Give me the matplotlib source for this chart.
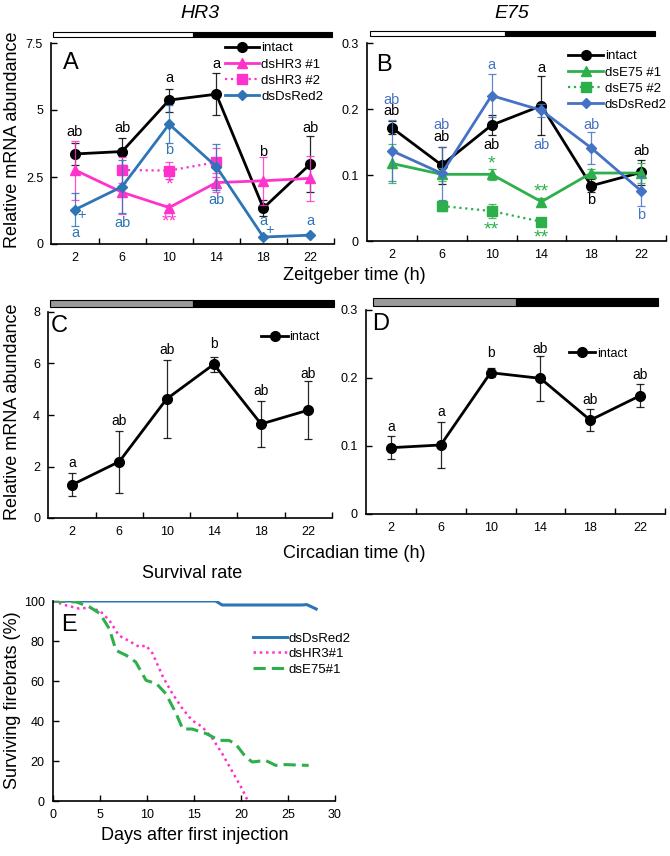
import matplotlib
matplotlib.use('Agg')
import matplotlib.pyplot as plt
from matplotlib.patches import Rectangle

plt.rcParams['font.family'] = ['Liberation Sans', 'DejaVu Sans']

W, H = 670, 856

BLACK = '#000000'
MAGENTA = '#FF33CC'
BLUE = '#2E75B6'
BLUE_B = '#4472C4'
GREEN = '#2DB04B'

zt = [2, 6, 10, 14, 18, 22]
zt_short = [6, 10, 14]

# --- A: HR3 (LD) ---
a_intact = [3.36, 3.45, 5.37, 5.59, 1.34, 2.99]
a_intact_err = [0.40, 0.50, 0.43, 0.78, 0.30, 1.04]
a_dshr3_1 = [2.76, 1.93, 1.36, 2.29, 2.36, 2.45]
a_dshr3_1_err = [1.10, 0.80, 0.10, 0.35, 0.90, 0.85]
a_dshr3_2 = [2.76, 2.74, 3.05]
a_dshr3_2_err = [0.50, 0.33, 0.55]
a_dsred = [1.28, 2.14, 4.47, 2.89, 0.26, 0.33]
a_dsred_err = [0.62, 1.00, 0.70, 0.86, 0.05, 0.05]

# --- B: E75 (LD) ---
b_intact = [0.1715, 0.115, 0.1755, 0.205, 0.0837, 0.104]
b_intact_err = [0.010, 0.028, 0.015, 0.045, 0.010, 0.019]
b_dse75_1 = [0.1175, 0.101, 0.101, 0.0595, 0.103, 0.103]
b_dse75_1_err = [0.030, 0.010, 0.008, 0.006, 0.006, 0.015]
b_dse75_2 = [0.053, 0.0454, 0.0292]
b_dse75_2_err = [0.008, 0.010, 0.002]
b_dsred = [0.1367, 0.1024, 0.2204, 0.198, 0.141, 0.076]
b_dsred_err = [0.046, 0.040, 0.032, 0.010, 0.024, 0.023]

# --- C / D: DD ---
c_intact = [1.29, 2.19, 4.62, 5.97, 3.65, 4.19]
c_intact_err = [0.44, 1.20, 1.53, 0.29, 0.88, 1.12]
d_intact = [0.0975, 0.1015, 0.2078, 0.1995, 0.138, 0.174]
d_intact_err = [0.017, 0.034, 0.007, 0.033, 0.016, 0.017]

# letters (x, y, text, color)
a_letters = [(2, 4.19, 'ab', BLACK), (6, 4.34, 'ab', BLACK), (10, 6.21, 'a', BLACK),
             (14, 6.73, 'a', BLACK), (18, 3.42, 'b', BLACK), (22, 4.34, 'ab', BLACK),
             (2, 0.41, 'a', BLUE), (2.55, 1.09, '+', BLUE), (6, 0.78, 'ab', BLUE),
             (10, 3.50, 'b', BLUE), (14, 1.65, 'ab', BLUE), (18, 0.84, 'a', BLUE),
             (18.5, 0.53, '+', BLUE), (22, 0.87, 'a', BLUE)]
a_stars = [(10, 2.20, '*', MAGENTA), (10, 0.82, '**', MAGENTA)]
b_letters = [(2, 0.2133, 'ab', BLUE_B), (2, 0.1967, 'ab', BLACK),
             (6, 0.1755, 'ab', BLUE_B), (6, 0.158, 'ab', BLACK),
             (10, 0.2663, 'a', BLUE_B), (10, 0.1452, 'ab', BLACK),
             (14, 0.2622, 'a', BLACK), (14, 0.146, 'ab', BLUE_B),
             (18, 0.1755, 'ab', BLUE_B), (18, 0.062, 'b', BLACK),
             (22, 0.136, 'ab', BLACK), (22, 0.039, 'b', BLUE_B)]
b_stars = [(10, 0.116, '*', GREEN), (14, 0.074, '**', GREEN),
           (10, 0.017, '**', GREEN), (14, 0.005, '**', GREEN)]
c_letters = ['a', 'ab', 'ab', 'b', 'ab', 'ab']
c_letter_y = [2.15, 3.78, 6.52, 6.75, 4.93, 5.61]
d_letters = ['a', 'a', 'b', 'ab', 'ab', 'ab']
d_letter_y = [0.128, 0.1505, 0.237, 0.243, 0.168, 0.205]

# --- E: survival ---
e_dsred_day = [0, 17.3, 18.0, 26.5, 27.0, 28.0]
e_dsred_pct = [100, 100, 98, 98, 98.2, 96]
e_dshr3_day = [0, 1.4, 2.8, 3.9, 5.0, 6.0, 7.0, 8.1, 9.2, 9.9, 10.6, 11.7, 12.7,
               13.8, 14.8, 15.9, 17.0, 18.0, 19.1, 20.1, 20.7]
e_dshr3_pct = [100, 97.8, 96.2, 96.7, 95, 90.3, 82.8, 80, 77, 77.8, 73.7, 62, 53.7,
               46, 40.3, 37, 31, 23.7, 14.5, 6.2, 0.3]
e_dse75_day = [0, 2.5, 3.9, 5.0, 6.0, 6.7, 7.8, 8.8, 9.9, 11.0, 12.0, 13.1, 13.8,
               14.8, 16.3, 17.7, 18.7, 19.4, 20.5, 21.2, 22.6, 23.7, 24.7, 27.2]
e_dse75_pct = [100, 99.5, 97, 93.7, 86, 75.3, 72.8, 69.5, 60.3, 58.7, 53.7, 43.7, 36,
               36, 33.7, 30.3, 30.3, 28.7, 22, 19.5, 20.3, 17.8, 18.2, 17.8]

TICK_FS = 9
LAB_FS = 13

fig = plt.figure(figsize=(W / 100, H / 100), dpi=100)


def px_axes(x0, x1, ytop, ybot):
    return fig.add_axes([x0 / W, 1 - ybot / H, (x1 - x0) / W, (ybot - ytop) / H])


def px_bar(x0, x1, y0, y1, fc):
    fig.add_artist(Rectangle((x0 / W, 1 - y1 / H), (x1 - x0) / W, (y1 - y0) / H,
                             transform=fig.transFigure, fc=fc, ec='black', lw=0.8))


def px_text(x, y, s, **kw):
    fig.text(x / W, 1 - y / H, s, ha='center', va='center', **kw)


def style_time(ax, ylim, yticks, ylabels):
    ax.set_xlim(0, 24)
    ax.set_ylim(*ylim)
    ax.set_xticks(range(4, 25, 4))
    ax.set_xticklabels([])
    ax.set_xticks(zt, minor=True)
    ax.set_xticklabels([str(t) for t in zt], minor=True, fontsize=TICK_FS)
    ax.tick_params(axis='x', which='major', direction='in', length=4, width=1)
    ax.tick_params(axis='x', which='minor', length=0, pad=6)
    ax.set_yticks(yticks)
    ax.set_yticklabels(ylabels, fontsize=TICK_FS)
    ax.tick_params(axis='y', direction='in', length=4, width=1, pad=6)
    for s in ['top', 'right']:
        ax.spines[s].set_visible(False)
    for s in ['left', 'bottom']:
        ax.spines[s].set_linewidth(1.2)


def series(ax, x, y, err, color, marker, ms, label, ls='-', lw=2):
    ax.errorbar(x, y, yerr=err, fmt='none', ecolor=color, elinewidth=0.9,
                capsize=3, capthick=0.9, alpha=0.85)
    ax.plot(x, y, color=color, marker=marker, ms=ms, lw=lw, ls=ls, label=label)


def legend(ax, anchor, fs=9.5, hl=2.6):
    ax.legend(loc='upper right', bbox_to_anchor=anchor, frameon=False, fontsize=fs,
              handlelength=hl, handletextpad=0.15, labelspacing=0.3, borderaxespad=0)


def annotate(ax, items, fs):
    for x, y, s, c in items:
        ax.text(x, y, s, color=c, ha='center', va='center', fontsize=fs)


# ---------- A ----------
axA = px_axes(51.4, 334, 43, 244)
series(axA, zt, a_intact, a_intact_err, BLACK, 'o', 7, 'intact')
series(axA, zt, a_dshr3_1, a_dshr3_1_err, MAGENTA, '^', 7, 'dsHR3 #1')
series(axA, zt_short, a_dshr3_2, a_dshr3_2_err, MAGENTA, 's', 7, 'dsHR3 #2', ls=':', lw=1.6)
series(axA, zt, a_dsred, a_dsred_err, BLUE, 'D', 5, 'dsDsRed2')
style_time(axA, (0, 7.5), [0, 2.5, 5, 7.5], ['0', '2.5', '5', '7.5'])
legend(axA, (0.98, 1.03))
annotate(axA, a_letters, 10.5)
annotate(axA, a_stars, 14)
axA.text(0.04, 0.9, 'A', transform=axA.transAxes, fontsize=17, va='center')

# ---------- B ----------
axB = px_axes(367, 666, 43, 241)
series(axB, zt, b_intact, b_intact_err, BLACK, 'o', 7, 'intact')
series(axB, zt, b_dse75_1, b_dse75_1_err, GREEN, '^', 7, 'dsE75 #1')
series(axB, zt_short, b_dse75_2, b_dse75_2_err, GREEN, 's', 7, 'dsE75 #2', ls=':', lw=1.6)
series(axB, zt, b_dsred, b_dsred_err, BLUE_B, 'D', 5, 'dsDsRed2')
style_time(axB, (0, 0.3), [0, 0.1, 0.2, 0.3], ['0', '0.1', '0.2', '0.3'])
legend(axB, (1.02, 0.99))
annotate(axB, b_letters, 10.5)
annotate(axB, b_stars, 14)
axB.text(0.03, 0.89, 'B', transform=axB.transAxes, fontsize=17, va='center')

# ---------- C ----------
axC = px_axes(48.4, 332, 312, 518)
series(axC, zt, c_intact, c_intact_err, BLACK, 'o', 7, 'intact')
style_time(axC, (0, 8), [0, 2, 4, 6, 8], ['0', '2', '4', '6', '8'])
legend(axC, (0.975, 0.93), fs=9, hl=2.1)
for x, y, s in zip(zt, c_letter_y, c_letters):
    axC.text(x, y, s, ha='center', va='center', fontsize=10)
axC.text(0.01, 0.93, 'C', transform=axC.transAxes, fontsize=17, va='center')

# ---------- D ----------
axD = px_axes(366, 665, 310, 514)
series(axD, zt, d_intact, d_intact_err, BLACK, 'o', 7, 'intact')
style_time(axD, (0, 0.3), [0, 0.1, 0.2, 0.3], ['0', '0.1', '0.2', '0.3'])
legend(axD, (0.89, 0.84), fs=9, hl=2.1)
for x, y, s in zip(zt, d_letter_y, d_letters):
    axD.text(x, y, s, ha='center', va='center', fontsize=10)
axD.text(0.02, 0.93, 'D', transform=axD.transAxes, fontsize=17, va='center')

# ---------- E ----------
axE = px_axes(53, 335, 601, 801)
axE.plot(e_dsred_day, e_dsred_pct, color=BLUE, lw=2.2, label='dsDsRed2')
axE.plot(e_dshr3_day, e_dshr3_pct, color=MAGENTA, lw=1.8, ls=(0, (1, 1.5)), label='dsHR3#1')
axE.plot(e_dse75_day, e_dse75_pct, color=GREEN, lw=2.2, ls=(0, (4, 2)), label='dsE75#1')
axE.set_xlim(0, 30)
axE.set_ylim(0, 100)
axE.set_xticks(range(0, 31, 5))
axE.set_xticklabels([str(v) for v in range(0, 31, 5)], fontsize=TICK_FS)
axE.set_yticks(range(0, 101, 20))
axE.set_yticklabels([str(v) for v in range(0, 101, 20)], fontsize=TICK_FS)
axE.tick_params(direction='in', length=4, width=1, pad=6)
for s in ['top', 'right']:
    axE.spines[s].set_visible(False)
for s in ['left', 'bottom']:
    axE.spines[s].set_linewidth(1.2)
axE.legend(loc='upper left', bbox_to_anchor=(0.69, 0.87), frameon=False, fontsize=9.5,
           handlelength=2.6, handletextpad=0.1, labelspacing=0.25, borderaxespad=0)
axE.text(0.03, 0.88, 'E', transform=axE.transAxes, fontsize=17, va='center')

# light/dark bars
px_bar(53, 193, 32, 37, 'white')
px_bar(193, 332, 32, 37, 'black')
px_bar(370, 505, 31, 36, 'white')
px_bar(505, 655, 31, 36, 'black')
px_bar(50, 193, 300, 307, '#999999')
px_bar(193, 334, 300, 307, 'black')
px_bar(373, 516, 298, 306, '#999999')
px_bar(516, 658, 298, 306, 'black')

# titles and axis labels
px_text(200, 13, 'HR3', fontsize=14, style='italic')
px_text(512, 14, 'E75', fontsize=14, style='italic')
px_text(354, 276, 'Zeitgeber time (h)', fontsize=LAB_FS)
px_text(354, 553, 'Circadian time (h)', fontsize=LAB_FS)
px_text(192, 573, 'Survival rate', fontsize=LAB_FS)
px_text(195, 836, 'Days after first injection', fontsize=LAB_FS)
px_text(13, 140, 'Relative mRNA abundance', fontsize=LAB_FS, rotation=90)
px_text(13, 412, 'Relative mRNA abundance', fontsize=LAB_FS, rotation=90)
px_text(13, 700, 'Surviving firebrats (%)', fontsize=LAB_FS, rotation=90)

fig.savefig('out.png', dpi=100)
